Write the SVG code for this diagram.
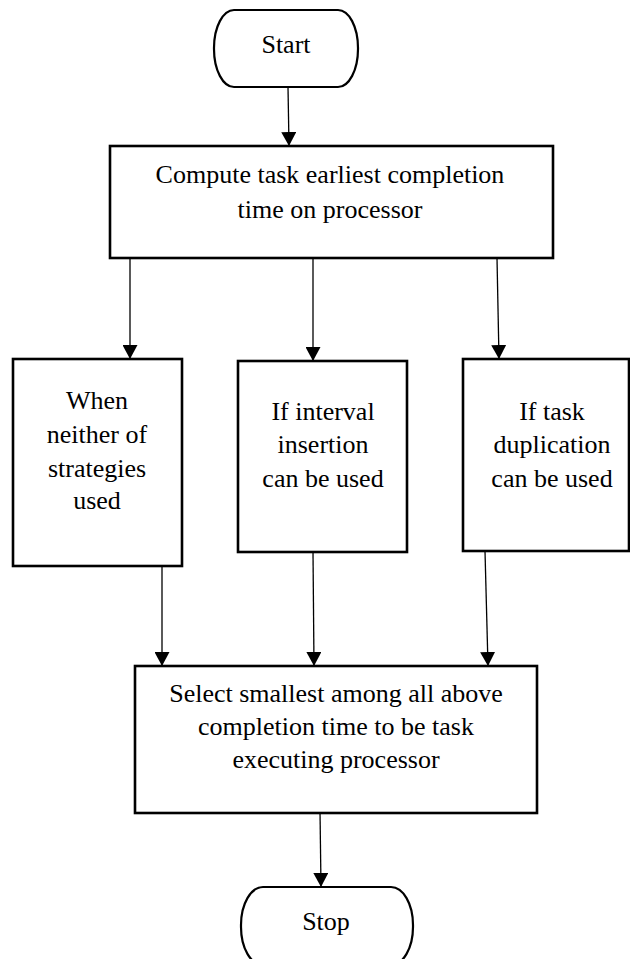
<svg xmlns="http://www.w3.org/2000/svg" width="630" height="959" viewBox="0 0 630 959">
  <defs>
    <marker id="arrow" viewBox="0 0 14 15" refX="14" refY="7.5" markerWidth="14" markerHeight="15" markerUnits="userSpaceOnUse" orient="auto">
      <path d="M0,0 L14,7.5 L0,15 Z" fill="#000"/>
    </marker>
    <style>
      .box { fill: #fff; stroke: #000; stroke-width: 2.6; }
      .term { fill: #fff; stroke: #000; stroke-width: 2.2; }
      .edge { fill: none; stroke: #000; stroke-width: 1.3; marker-end: url(#arrow); }
      text { font-family: "Liberation Serif", "Times New Roman", serif; font-size: 26px; fill: #000; text-anchor: middle; }
    </style>
  </defs>
  <rect width="630" height="959" fill="#fff"/>

  <g id="connectors">
    <line class="edge" x1="288" y1="87" x2="289" y2="146"/>
    <line class="edge" x1="130" y1="258" x2="130" y2="359"/>
    <line class="edge" x1="313" y1="258" x2="313" y2="361"/>
    <line class="edge" x1="497" y1="258" x2="499" y2="359"/>
    <line class="edge" x1="162" y1="566" x2="162" y2="666"/>
    <line class="edge" x1="313" y1="552" x2="314" y2="666"/>
    <line class="edge" x1="485" y1="551" x2="488" y2="666"/>
    <line class="edge" x1="320" y1="811" x2="321" y2="887"/>
  </g>

  <g id="start">
    <rect class="term" x="214" y="10" width="144" height="77" rx="20" ry="38"/>
    <text x="286" y="53">Start</text>
  </g>

  <g id="compute">
    <rect class="box" x="110" y="146" width="443" height="112"/>
    <text x="330" y="183">Compute task earliest completion</text>
    <text x="330" y="218">time on processor</text>
  </g>

  <g id="neither">
    <rect class="box" x="13" y="359" width="169" height="207"/>
    <text x="97" y="409">When</text>
    <text x="97" y="443">neither of</text>
    <text x="97" y="477">strategies</text>
    <text x="97" y="509">used</text>
  </g>

  <g id="interval">
    <rect class="box" x="238" y="361" width="169" height="191"/>
    <text x="323" y="420">If interval</text>
    <text x="323" y="453">insertion</text>
    <text x="323" y="487">can be used</text>
  </g>

  <g id="duplication">
    <rect class="box" x="463" y="359" width="166" height="192"/>
    <text x="552" y="420">If task</text>
    <text x="552" y="453">duplication</text>
    <text x="552" y="487">can be used</text>
  </g>

  <g id="select">
    <rect class="box" x="135" y="666" width="402" height="147"/>
    <text x="336" y="702">Select smallest among all above</text>
    <text x="336" y="735">completion time to be task</text>
    <text x="336" y="768">executing processor</text>
  </g>

  <g id="stop">
    <rect class="term" x="241" y="887" width="172" height="78" rx="22" ry="38"/>
    <text x="326" y="930">Stop</text>
  </g>
</svg>
